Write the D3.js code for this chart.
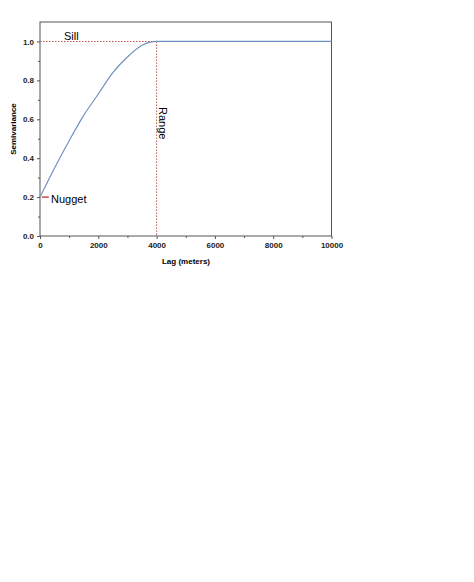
<!DOCTYPE html>
<html><head><meta charset="utf-8">
<script src="https://cdn.jsdelivr.net/npm/d3@7"></script>
<style>body{margin:0;background:#fff}</style></head>
<body><svg id="c" width="474" height="582"></svg>
<script>
const lags = [0, 500, 1000, 1500, 2000, 2500, 3000, 3500, 4000, 10000];
const semivariance = [0.2, 0.35, 0.49, 0.62, 0.73, 0.84, 0.92, 0.98, 1.0, 1.0];
const xTicks = [0, 2000, 4000, 6000, 8000, 10000];
const yTicks = [0, 0.2, 0.4, 0.6, 0.8, 1.0];
const nugget = 0.2, sill = 1.0, range = 4000;

const svg = d3.select("#c");
const x = d3.scaleLinear().domain([0, 10000]).range([40, 331.5]);
const y = d3.scaleLinear().domain([0, 1.1]).range([236, 22]);

svg.append("rect").attr("x", 40).attr("y", 22).attr("width", 291.5).attr("height", 214)
  .attr("fill", "none").attr("stroke", "#555");

const bold = "bold 8px 'Liberation Sans', Arial, sans-serif";
const xa = svg.append("g").attr("transform", "translate(0,236)")
  .call(d3.axisBottom(x).tickValues(xTicks).tickSize(3).tickFormat(d3.format("d")));
svg.append("g").attr("transform", "translate(0,236)")
  .call(d3.axisBottom(x).tickValues(d3.range(1000, 10000, 2000)).tickSize(2).tickFormat(""));
const ya = svg.append("g").attr("transform", "translate(40,0)")
  .call(d3.axisLeft(y).tickValues(yTicks).tickSize(3).tickFormat(d3.format(".1f")));
svg.append("g").attr("transform", "translate(40,0)")
  .call(d3.axisLeft(y).tickValues([0.1, 0.3, 0.5, 0.7, 0.9]).tickSize(2).tickFormat(""));
svg.selectAll(".domain").remove();
svg.selectAll(".tick line").attr("stroke", "#555");
svg.selectAll(".tick text").style("font", bold).attr("fill", "#222");

svg.append("text").attr("x", 186).attr("y", 264).attr("text-anchor", "middle")
  .style("font", bold).text("Lag (meters)");
svg.append("text").attr("transform", "translate(16,129) rotate(-90)").attr("text-anchor", "middle")
  .style("font", bold).text("Semivariance");

// reference lines
svg.append("line").attr("x1", x(0)).attr("x2", x(range)).attr("y1", y(sill)).attr("y2", y(sill))
  .attr("stroke", "#c05050").attr("stroke-dasharray", "1.5,1.5");
svg.append("line").attr("x1", x(range)).attr("x2", x(range)).attr("y1", y(sill)).attr("y2", y(0))
  .attr("stroke", "#b06060").attr("stroke-dasharray", "1.5,1.5");
svg.append("line").attr("x1", x(60)).attr("x2", x(300)).attr("y1", y(nugget)).attr("y2", y(nugget))
  .attr("stroke", "#c02020").attr("stroke-width", 1.2);

const line = d3.line().x((d, i) => x(lags[i])).y(d => y(d)).curve(d3.curveMonotoneX);
svg.append("path").datum(semivariance).attr("d", line).attr("fill", "none")
  .attr("stroke", "#6f93c0").attr("stroke-width", 1.2);

const lab = "11px 'Liberation Sans', Arial, sans-serif";
svg.append("text").attr("x", 64).attr("y", 40).style("font", lab).text("Sill");
svg.append("text").attr("x", 51).attr("y", 203).style("font", lab).text("Nugget");
svg.append("text").attr("transform", `translate(${x(range) + 2},107) rotate(90)`).style("font", lab).text("Range");
</script></body></html>
